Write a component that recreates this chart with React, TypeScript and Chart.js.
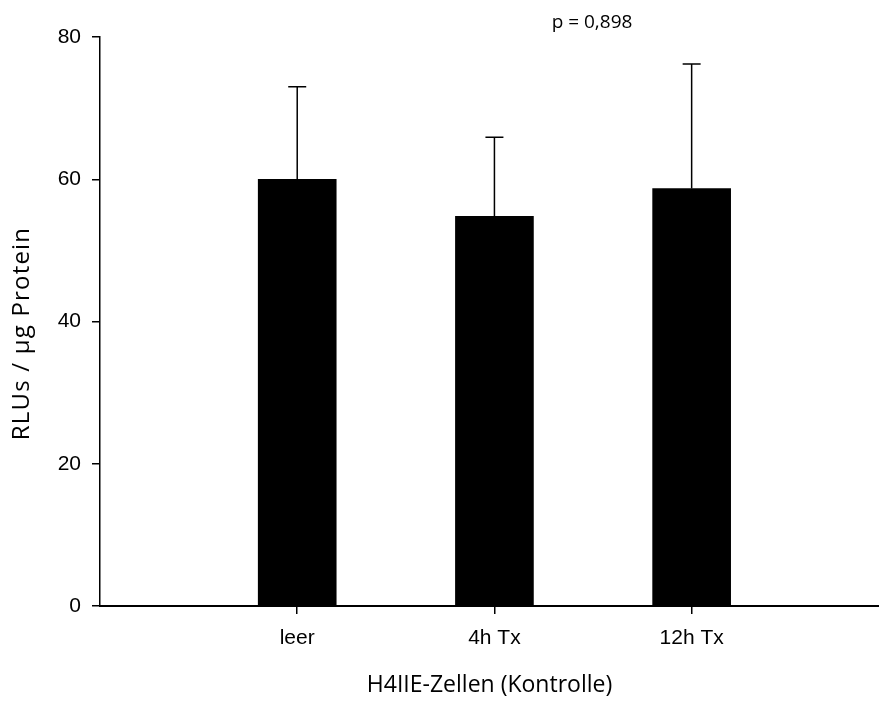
import React, { useEffect, useRef } from "react";
import { Chart, registerables } from "chart.js";

Chart.register(...registerables);

const categories = ["leer", "4h Tx", "12h Tx"];
const meanValues = [60.0, 54.8, 58.7];
const errorValues = [13.0, 11.1, 17.5];
const yTicks = [0, 20, 40, 60, 80];
const xTitle = "H4IIE-Zellen (Kontrolle)";
const yTitle = "RLUs / µg Protein";
const pLabel = "p = 0,898";

const TICK_FONT = { family: "'Liberation Sans', Arial, sans-serif", size: 21 };
const TITLE_FAMILY = "'Open Sans', sans-serif";

export default function App() {
  const canvasRef = useRef<HTMLCanvasElement | null>(null);

  useEffect(() => {
    const canvas = canvasRef.current;
    if (!canvas) return;

    const errorBarPlugin = {
      id: "errorBars",
      afterDatasetsDraw(chart: any) {
        const { ctx } = chart;
        const xs = chart.scales.x;
        const ys = chart.scales.y;
        ctx.save();
        ctx.strokeStyle = "#000";
        ctx.lineWidth = 1.5;
        meanValues.forEach((v, i) => {
          const x = xs.getPixelForValue(i + 1);
          const yBase = ys.getPixelForValue(v);
          const yTop = ys.getPixelForValue(v + errorValues[i]);
          ctx.beginPath();
          ctx.moveTo(x, yBase);
          ctx.lineTo(x, yTop);
          ctx.moveTo(x - 9, yTop);
          ctx.lineTo(x + 9, yTop);
          ctx.stroke();
        });
        ctx.restore();
      },
    };

    const textPlugin = {
      id: "extraTexts",
      afterDraw(chart: any) {
        const { ctx, chartArea } = chart;
        ctx.save();
        ctx.fillStyle = "#000";
        ctx.textAlign = "center";
        ctx.textBaseline = "middle";
        // y-axis title
        ctx.font = `24px ${TITLE_FAMILY}`;
        try {
          (ctx as any).letterSpacing = "1.2px";
        } catch (e) {}
        ctx.translate(22, (chartArea.top + chartArea.bottom) / 2 + 12);
        ctx.rotate(-Math.PI / 2);
        ctx.fillText(yTitle, 0, 0);
        ctx.restore();
        ctx.save();
        ctx.fillStyle = "#000";
        ctx.textAlign = "center";
        ctx.textBaseline = "middle";
        ctx.font = `19px ${TITLE_FAMILY}`;
        ctx.fillText(pLabel, 592, 23);
        ctx.restore();
      },
    };

    const chart = new Chart(canvas, {
      type: "bar",
      data: {
        datasets: [
          {
            data: meanValues.map((v, i) => ({ x: i + 1, y: v })),
            backgroundColor: "#000",
            borderWidth: 0,
            barThickness: 78,
          },
        ],
      },
      options: {
        animation: false,
        responsive: false,
        devicePixelRatio: 1,
        layout: { padding: { top: 37, left: 0, right: 0, bottom: 0 } },
        plugins: {
          legend: { display: false },
          tooltip: { enabled: false },
        },
        scales: {
          x: {
            type: "linear",
            min: 0,
            max: 3.95,
            offset: false,
            afterBuildTicks: (s: any) => {
              s.ticks = categories.map((_, i) => ({ value: i + 1 }));
            },
            ticks: {
              callback: (v: any) => categories[Number(v) - 1] ?? "",
              font: TICK_FONT,
              color: "#000",
              padding: 12,
              maxRotation: 0,
              autoSkip: false,
            },
            grid: {
              offset: false,
              drawOnChartArea: false,
              tickLength: 8,
              color: "#000",
              lineWidth: 1.5,
            },
            border: { color: "#000", width: 2 },
            title: {
              display: true,
              text: xTitle,
              font: { family: TITLE_FAMILY, size: 23 },
              color: "#000",
              padding: { top: 0, bottom: 3 },
            },
            afterFit: (s: any) => {
              s.height = 96;
            },
          },
          y: {
            min: 0,
            max: 80,
            afterBuildTicks: (s: any) => {
              s.ticks = yTicks.map((v) => ({ value: v }));
            },
            ticks: {
              font: TICK_FONT,
              color: "#000",
              padding: 11,
            },
            grid: {
              drawOnChartArea: false,
              tickLength: 8,
              color: "#000",
              lineWidth: 1.5,
            },
            border: { color: "#000", width: 1.5 },
            afterFit: (s: any) => {
              s.width = 100;
            },
          },
        },
      } as any,
      plugins: [errorBarPlugin, textPlugin],
    });

    return () => chart.destroy();
  }, []);

  return (
    <div style={{ position: "absolute", left: 0, top: 0, width: 879, height: 702, background: "#fff" }}>
      <canvas ref={canvasRef} width={879} height={702} style={{ width: 879, height: 702, display: "block" }} />
    </div>
  );
}
